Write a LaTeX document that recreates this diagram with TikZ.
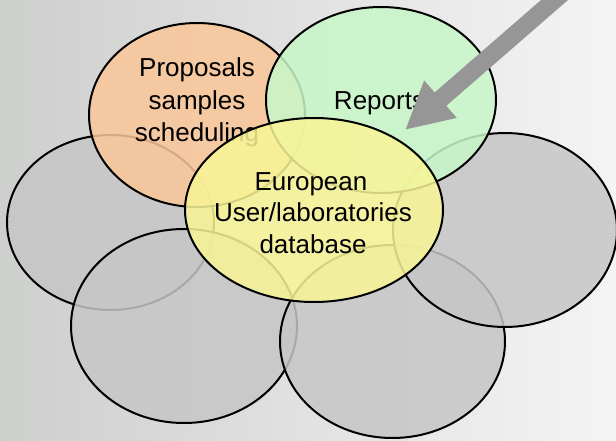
\documentclass[tikz,border=0pt]{standalone}
\usepackage{fontspec}
\setmainfont{Liberation Sans}
\usetikzlibrary{shapes.geometric,arrows.meta}
\definecolor{bgL}{RGB}{205,207,205}
\definecolor{bgR}{RGB}{244,244,244}
\definecolor{orangeF}{RGB}{250,198,152}
\definecolor{greenF}{RGB}{200,247,200}
\definecolor{yellowF}{RGB}{248,245,150}
\definecolor{greyF}{RGB}{198,198,198}
\definecolor{arrowG}{RGB}{150,150,150}
\begin{document}
\begin{tikzpicture}[x=1pt,y=-1pt,
  bubble/.style={ellipse, draw=black, line width=2pt, fill opacity=0.85, inner sep=0pt, outer sep=0pt},
  lbl/.style={anchor=base, font=\fontsize{26}{32}\selectfont, inner sep=0pt, text=black},
  bigarrow/.style={draw=arrowG, line width=17.7pt, -{Triangle[length=47pt,width=46pt]}}]
\useasboundingbox (0,0) rectangle (616,441);
\clip (0,0) rectangle (616,441);
\shade[left color=bgL, right color=bgR] (0,0) rectangle (616,441);
% grey bubbles
\node[bubble, fill=greyF, minimum width=207pt, minimum height=175pt] (gl) at (110.5,222.5) {};
\node[bubble, fill=greyF, minimum width=226pt, minimum height=194pt] (gbl) at (184,326) {};
\node[bubble, fill=greyF, minimum width=225pt, minimum height=193pt] (gbr) at (392.5,341.5) {};
\node[bubble, fill=greyF, minimum width=224pt, minimum height=194pt] (gr) at (505,230) {};
% orange
\node[bubble, fill=orangeF, minimum width=216pt, minimum height=184pt] (po) at (197,115) {};
\node[lbl] (po1) at (197,77) {Proposals};
\node[lbl] (po2) at (197,109.5) {samples};
\node[lbl] (po3) at (197,142) {scheduling};
% green
\node[bubble, fill=greenF, minimum width=230pt, minimum height=186pt] (rep) at (381,100) {};
\node[lbl] (rep1) at (379.5,110) {Reports};
% yellow
\node[bubble, fill=yellowF, minimum width=258pt, minimum height=184pt] (db) at (314,210) {};
\node[lbl] (db1) at (311,190) {European};
\node[lbl] (db2) at (313,222) {User/laboratories};
\node[lbl] (db3) at (313,253) {database};
% arrow
\coordinate (tail) at (566,-10);
\coordinate (tip) at (405,130);
\draw[bigarrow] (tail) -- (tip);
\end{tikzpicture}
\end{document}
